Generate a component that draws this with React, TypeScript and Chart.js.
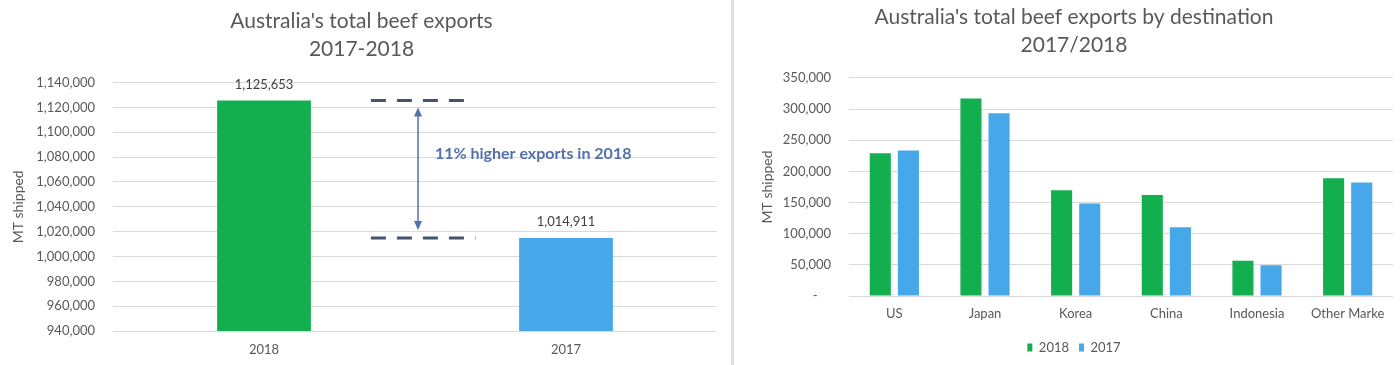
import React, { useEffect, useRef } from "react";
import { Chart, registerables } from "chart.js";

Chart.register(...registerables);

// ---- Data ----
const totalCategories = ["2018", "2017"];
const totalValues = [1125653, 1014911];
const totalMin = 940000;
const totalMax = 1140000;
const totalStep = 20000;

const destCategories = ["US", "Japan", "Korea", "China", "Indonesia", "Other Marke"];
const dest2018 = [229000, 317000, 169600, 162000, 56700, 189000];
const dest2017 = [233300, 293300, 148500, 110200, 49200, 182000];
const destMin = 0;
const destMax = 350000;
const destStep = 50000;

const leftTitle = ["Australia's total beef exports", "2017-2018"];
const rightTitle = ["Australia's total beef exports by destination", "2017/2018"];
const axisTitle = "MT shipped";
const annotationText = "11% higher exports in 2018";

// ---- Styles ----
const GREEN = "#13AE4D";
const BLUE = "#46A7E9";
const GRID = "#D9D9D9";
const TEXT = "#595959";
const FONT = "Lato, 'Open Sans', sans-serif";

const fmt = (v: number) => (v === 0 ? "-    " : Math.round(v).toLocaleString("en-US"));

const dataLabelPlugin = {
  id: "dataLabels",
  afterDatasetsDraw(chart: any) {
    const { ctx } = chart;
    const meta = chart.getDatasetMeta(0);
    ctx.save();
    ctx.font = `13px ${FONT}`;
    ctx.fillStyle = "#404040";
    ctx.textAlign = "center";
    ctx.textBaseline = "middle";
    meta.data.forEach((bar: any, i: number) => {
      ctx.fillText(totalValues[i].toLocaleString("en-US"), bar.x, bar.y - 16);
    });
    ctx.restore();
  },
};

const annotationPlugin = {
  id: "diffAnnotation",
  afterDatasetsDraw(chart: any) {
    const { ctx, chartArea } = chart;
    const y = chart.scales.y;
    const w = chartArea.right - chartArea.left;
    const h = chartArea.bottom - chartArea.top;
    const yTop = y.getPixelForValue(totalValues[0]);
    const yBot = y.getPixelForValue(totalValues[1]);
    const x1 = chartArea.left + 0.427 * w;
    const x2 = chartArea.left + 0.581 * w;
    const x3 = chartArea.left + 0.6 * w;
    const ax = chartArea.left + 0.505 * w;
    ctx.save();
    ctx.strokeStyle = "#44546A";
    ctx.lineWidth = 3;
    ctx.setLineDash([15, 11]);
    ctx.beginPath();
    ctx.moveTo(x1, yTop);
    ctx.lineTo(x2, yTop);
    ctx.moveTo(x1, yBot);
    ctx.lineTo(x3, yBot);
    ctx.stroke();
    ctx.setLineDash([]);
    const tipTop = yTop + 7;
    const tipBot = yBot - 8;
    ctx.strokeStyle = "#5470AE";
    ctx.fillStyle = "#5470AE";
    ctx.lineWidth = 1.5;
    ctx.beginPath();
    ctx.moveTo(ax, tipTop + 6);
    ctx.lineTo(ax, tipBot - 6);
    ctx.stroke();
    ctx.beginPath();
    ctx.moveTo(ax, tipTop);
    ctx.lineTo(ax - 4, tipTop + 9);
    ctx.lineTo(ax + 4, tipTop + 9);
    ctx.closePath();
    ctx.fill();
    ctx.beginPath();
    ctx.moveTo(ax, tipBot);
    ctx.lineTo(ax - 4, tipBot - 9);
    ctx.lineTo(ax + 4, tipBot - 9);
    ctx.closePath();
    ctx.fill();
    ctx.font = `bold 16px ${FONT}`;
    ctx.fillStyle = "#5470AE";
    ctx.textAlign = "left";
    ctx.textBaseline = "middle";
    ctx.fillText(annotationText, chartArea.left + 0.533 * w, chartArea.top + 0.285 * h);
    ctx.restore();
  },
};

function LeftChart() {
  const ref = useRef<HTMLCanvasElement>(null);
  useEffect(() => {
    if (!ref.current) return;
    const chart = new Chart(ref.current, {
      type: "bar",
      data: {
        labels: totalCategories,
        datasets: [
          {
            data: totalValues,
            backgroundColor: [GREEN, BLUE],
            barPercentage: 0.9,
            categoryPercentage: 0.345,
          },
        ],
      },
      options: {
        animation: false,
        responsive: false,
        devicePixelRatio: 1,
        layout: { padding: { left: 6, right: 13, top: 0, bottom: 0 } },
        plugins: {
          legend: { display: false },
          tooltip: { enabled: false },
          title: {
            display: true,
            text: leftTitle,
            color: TEXT,
            font: { family: FONT, size: 21, weight: "normal", lineHeight: 1.3 },
            padding: { top: 8, bottom: 20 },
          },
        },
        scales: {
          x: {
            grid: { display: false, drawTicks: false },
            border: { display: false },
            ticks: { color: TEXT, font: { family: FONT, size: 13 }, padding: 11 },
            afterFit: (s: any) => {
              s.height = 34;
            },
          },
          y: {
            min: totalMin,
            max: totalMax,
            grid: { color: GRID, drawTicks: false },
            border: { display: false },
            ticks: {
              stepSize: totalStep,
              color: TEXT,
              font: { family: FONT, size: 13 },
              padding: 18,
              callback: (v: any) => fmt(Number(v)),
            },
            title: {
              display: true,
              text: axisTitle,
              color: TEXT,
              font: { family: FONT, size: 14 },
              padding: { top: 4, bottom: 4 },
            },
            afterFit: (s: any) => {
              s.width = 107;
            },
          },
        },
      },
      plugins: [dataLabelPlugin, annotationPlugin],
    } as any);
    return () => chart.destroy();
  }, []);
  return <canvas ref={ref} width={730} height={365} />;
}

function RightChart() {
  const ref = useRef<HTMLCanvasElement>(null);
  useEffect(() => {
    if (!ref.current) return;
    const chart = new Chart(ref.current, {
      type: "bar",
      data: {
        labels: destCategories,
        datasets: [
          {
            label: "2018",
            data: dest2018,
            backgroundColor: GREEN,
            barPercentage: 0.75,
            categoryPercentage: 0.62,
          },
          {
            label: "2017",
            data: dest2017,
            backgroundColor: BLUE,
            barPercentage: 0.75,
            categoryPercentage: 0.62,
          },
        ],
      },
      options: {
        animation: false,
        responsive: false,
        devicePixelRatio: 1,
        layout: { padding: { left: 19, right: 35, top: 0, bottom: 1 } },
        plugins: {
          tooltip: { enabled: false },
          title: {
            display: true,
            text: rightTitle,
            color: TEXT,
            font: { family: FONT, size: 21, weight: "normal", lineHeight: 1.33 },
            padding: { top: 3, bottom: 19 },
          },
          legend: {
            display: true,
            position: "bottom",
            labels: {
              color: TEXT,
              font: { family: FONT, size: 13 },
              boxWidth: 5,
              boxHeight: 8,
              padding: 10,
            },
          },
        },
        scales: {
          x: {
            grid: { display: false, drawTicks: false },
            border: { display: false },
            ticks: { color: TEXT, font: { family: FONT, size: 13 }, padding: 10, maxRotation: 0, autoSkip: false },
            afterFit: (s: any) => {
              s.height = 35;
            },
          },
          y: {
            min: destMin,
            max: destMax,
            grid: { color: GRID, drawTicks: false },
            border: { display: false },
            ticks: {
              stepSize: destStep,
              color: TEXT,
              font: { family: FONT, size: 13 },
              padding: 18,
              callback: (v: any) => fmt(Number(v)),
            },
            title: {
              display: true,
              text: axisTitle,
              color: TEXT,
              font: { family: FONT, size: 14 },
              padding: { top: 4, bottom: 4 },
            },
            afterFit: (s: any) => {
              s.width = 94;
            },
          },
        },
      },
    } as any);
    return () => chart.destroy();
  }, []);
  return <canvas ref={ref} width={692} height={365} />;
}

export default function App() {
  return (
    <div
      style={{
        position: "fixed",
        left: 0,
        top: 0,
        width: 1400,
        height: 365,
        overflow: "hidden",
        background: "#fff",
      }}
    >
      <div style={{ position: "absolute", left: 0, top: 0, width: 730, height: 365 }}>
        <LeftChart />
      </div>
      <div
        style={{
          position: "absolute",
          left: 731,
          top: 0,
          width: 1,
          height: 365,
          borderLeft: "1px solid #D4D4D4",
          borderRight: "1px solid #D4D4D4",
          background: "#EEEEEE",
        }}
      />
      <div style={{ position: "absolute", left: 736, top: 0, width: 692, height: 365 }}>
        <RightChart />
      </div>
    </div>
  );
}
